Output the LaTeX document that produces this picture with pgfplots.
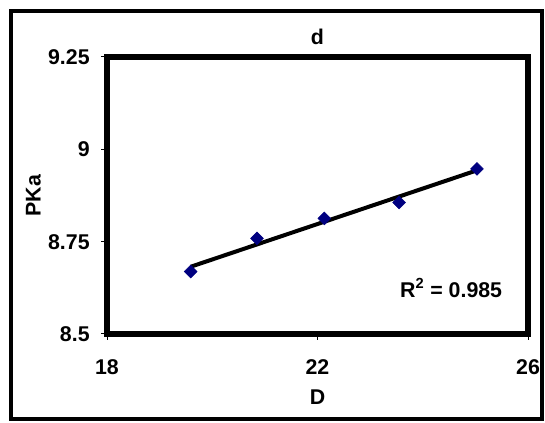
\documentclass[border=0pt]{standalone}
\usepackage{fontspec}
\setmainfont{Liberation Sans}
\usepackage{pgfplots}
\usepackage{pgfplotstable}
\pgfplotsset{compat=1.18}
\definecolor{navy}{RGB}{0,0,128}
\pgfplotstableread{
x y
19.59 8.669
20.85 8.759
22.13 8.813
23.55 8.856
25.03 8.947
}\datatable
\begin{document}
\begin{tikzpicture}
\begin{axis}[
  name=main,
  scale only axis, width=315.75pt, height=207.75pt,
  xmin=18, xmax=26, ymin=8.5, ymax=9.25,
  xtick={18,22,26}, ytick={8.5,8.75,9,9.25},
  axis line style={line width=4pt},
  tick style={black, line width=0.75pt},
  tick align=outside, major tick length=4.5pt,
  xtick pos=left, ytick pos=left,
  font=\fontsize{16}{19}\selectfont\bfseries,
  /pgf/number format/assume math mode=true,
  ticklabel style={font=\fontsize{16}{19}\selectfont\bfseries},
  xticklabel style={yshift=-11pt},
  yticklabel style={xshift=-5pt},
  title={d},
  title style={yshift=0pt},
  xlabel={D}, ylabel={PKa},
  xlabel style={yshift=-5pt},
  ylabel style={yshift=-1.5pt},
  clip=false,
]
\addplot[only marks, mark=square*, mark size=3.4pt, mark options={rotate=45, fill=navy, draw=navy}] table[x=x,y=y] {\datatable};
\addplot[black, line width=3pt, no marks] table[x=x, y={create col/linear regression={y=y}}] {\datatable};
\node at (axis cs:24.54,8.625) {R\textsuperscript{\fontsize{11}{13}\selectfont 2} = 0.985};
\end{axis}
\draw[line width=3pt] ([xshift=-72.2pt,yshift=-63.5pt]main.south west) rectangle ([xshift=10.3pt,yshift=34.5pt]main.north east);
\path ([xshift=-80.25pt,yshift=-66.75pt]main.south west) rectangle ++(408.75pt,317.25pt);
\end{tikzpicture}
\end{document}
